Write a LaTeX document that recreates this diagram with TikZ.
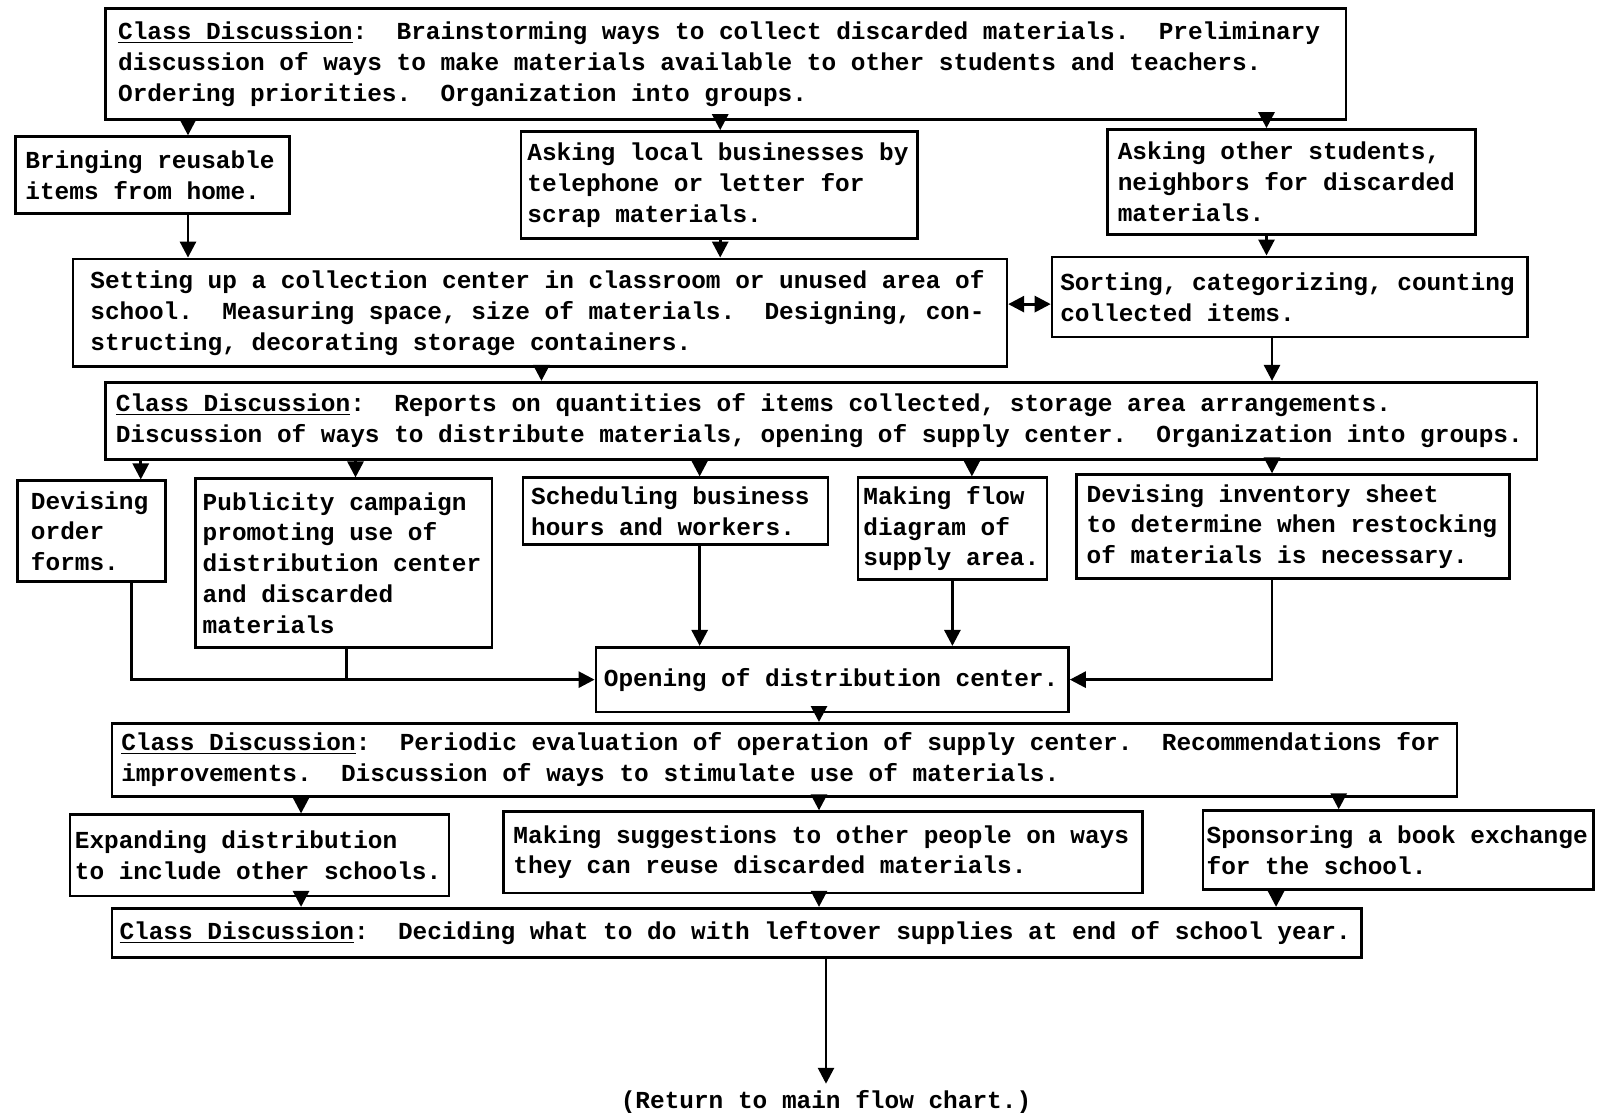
\documentclass[tikz,border=0pt]{standalone}
\usepackage{fontspec}
\setmonofont{Liberation Mono}
\usepackage{xcolor}
\usepackage{tikz}
\usetikzlibrary{arrows.meta, positioning, calc}

\begin{document}
\begin{tikzpicture}[
    box/.style={rectangle, draw=black, line width=1.5pt, align=flush left, inner ysep=0.1cm, font=\ttfamily\bfseries\fontsize{13.9}{17.5}\selectfont\frenchspacing, execute at begin node={\spaceskip=0pt\xspaceskip=0pt}},
    arr/.style={-{Triangle[length=0.32cm, width=0.32cm]}, line width=1.6pt},
    darr/.style={{Triangle[length=0.32cm, width=0.32cm]}-{Triangle[length=0.32cm, width=0.32cm]}, line width=1.6pt},
    lin/.style={line width=1.6pt}
]
\fill[white, use as bounding box] (0,0) rectangle (32.22,-22.24);

% collecting
\node[box, text width=24.308cm, inner xsep=0.247cm, minimum height=2.219cm] (cd1) at (14.517,-1.2825) {\underline{Class Discussion}:\ \ Brainstorming ways to collect discarded materials.\ \ Preliminary\\ discussion of ways to make materials available to other students and teachers.\\ Ordering priorities.\ \ Organization into groups.};
\node[box, text width=5.087cm, inner xsep=0.2cm, minimum height=1.541cm] (bring) at (3.0515,-3.5035) {Bringing reusable\\ items from home.};
\node[box, text width=7.671cm, inner xsep=0.13cm, minimum height=2.137cm] (ask) at (14.3835,-3.6985) {Asking local businesses by\\ telephone or letter for\\ scrap materials.};
\node[box, text width=6.946cm, inner xsep=0.205cm, minimum height=2.096cm] (other) at (25.829,-3.637) {Asking other students,\\ neighbors for discarded\\ materials.};
\node[box, text width=17.98cm, inner xsep=0.349cm, minimum height=2.158cm] (setup) at (10.798,-6.257) {Setting up a collection center in classroom or unused area of\\ school.\ \ Measuring space, size of materials.\ \ Designing, con-\\ structing, decorating storage containers.};
\node[box, text width=9.186cm, inner xsep=0.164cm, minimum height=1.603cm] (sort) at (25.798,-5.9385) {Sorting, categorizing, counting\\ collected items.};

% distributing
\node[box, text width=28.224cm, inner xsep=0.2cm, minimum height=1.541cm] (cd2) at (16.428,-8.4145) {\underline{Class Discussion}:\ \ Reports on quantities of items collected, storage area arrangements.\\ Discussion of ways to distribute materials, opening of supply center.\ \ Organization into groups.};
\node[box, text width=2.419cm, inner xsep=0.27cm, minimum height=2.014cm] (order) at (1.8285,-10.623) {Devising\\ order\\ forms.};
\node[box, text width=5.638cm, inner xsep=0.15cm, minimum height=3.37cm] (public) at (6.873,-11.26) {Publicity campaign\\ promoting use of\\ distribution center\\ and discarded\\ materials};
\node[box, text width=5.775cm, inner xsep=0.164cm, minimum height=1.335cm] (sched) at (13.5105,-10.2225) {Scheduling business\\ hours and workers.};
\node[box, text width=3.56cm, inner xsep=0.11cm, minimum height=2.034cm] (flow) at (19.048,-10.572) {Making flow\\ diagram of\\ supply area.};
\node[box, text width=8.251cm, inner xsep=0.2cm, minimum height=2.076cm] (inv) at (25.8595,-10.531) {Devising inventory sheet\\ to determine when restocking\\ of materials is necessary.};
\node[box, text width=9.132cm, inner xsep=0.16cm, minimum height=1.295cm] (open) at (16.644,-13.5925) {Opening of distribution center.};

% evaluating
\node[box, text width=26.527cm, inner xsep=0.185cm, minimum height=1.459cm] (cd3) at (15.6885,-15.1955) {\underline{Class Discussion}:\ \ Periodic evaluation of operation of supply center.\ \ Recommendations for\\ improvements.\ \ Discussion of ways to stimulate use of materials.};
\node[box, text width=7.382cm, inner xsep=0.1cm, minimum height=1.623cm] (expand) at (5.188,-17.1065) {Expanding distribution\\ to include other schools.};
\node[box, text width=12.38cm, inner xsep=0.2cm, minimum height=1.623cm] (suggest) at (16.459,-17.0445) {Making suggestions to other people on ways\\ they can reuse discarded materials.};
\node[box, text width=7.668cm, inner xsep=0.07cm, minimum height=1.583cm] (sponsor) at (27.966,-17.0035) {Sponsoring a book exchange\\ for the school.};
\node[box, text width=24.686cm, inner xsep=0.15cm, minimum height=0.987cm] (cd4) at (14.733,-18.6575) {\underline{Class Discussion}:\ \ Deciding what to do with leftover supplies at end of school year.};
\node[font=\ttfamily\bfseries\fontsize{13.9}{17.5}\selectfont] (ret) at (16.52,-22.03) {(Return to main flow chart.)};

% arrow columns
\coordinate (xa) at (3.76,0);
\coordinate (xb) at (14.404,0);
\coordinate (xc) at (25.33,0);
\coordinate (xd) at (10.829,0);
\coordinate (xe) at (25.44,0);
\coordinate (xf) at (2.815,0);
\coordinate (xg) at (7.11,0);
\coordinate (xh) at (13.993,0);
\coordinate (xi) at (19.438,0);
\coordinate (xj) at (19.048,0);
\coordinate (xk) at (2.63,0);
\coordinate (xl) at (6.925,0);
\coordinate (xm) at (16.38,0);
\coordinate (xn) at (6.021,0);
\coordinate (xo) at (26.774,0);
\coordinate (xp) at (25.521,0);
\coordinate (yd) at (0,-6.082);

\draw[arr] (cd1.south -| xa) -- (bring.north -| xa);
\draw[arr] (cd1.south -| xb) -- (ask.north -| xb);
\draw[arr] (cd1.south -| xc) -- (other.north -| xc);
\draw[arr] (bring.south -| xa) -- (setup.north -| xa);
\draw[arr] (ask.south -| xb) -- (setup.north -| xb);
\draw[arr] (other.south -| xc) -- (sort.north -| xc);
\draw[darr] (setup.east |- yd) -- (sort.west |- yd);
\draw[arr] (setup.south -| xd) -- (cd2.north -| xd);
\draw[arr] (sort.south -| xe) -- (cd2.north -| xe);

\draw[arr] (cd2.south -| xf) -- (order.north -| xf);
\draw[arr] (cd2.south -| xg) -- (public.north -| xg);
\draw[arr] (cd2.south -| xh) -- (sched.north -| xh);
\draw[arr] (cd2.south -| xi) -- (flow.north -| xi);
\draw[arr] (cd2.south -| xe) -- (inv.north -| xe);
\draw[arr] (order.south -| xk) |- (open.west);
\draw[lin] (public.south -| xl) -- (xl |- open.west);
\draw[arr] (sched.south -| xh) -- (open.north -| xh);
\draw[arr] (flow.south -| xj) -- (open.north -| xj);
\draw[arr] (inv.south -| xe) |- (open.east);
\draw[arr] (open.south -| xm) -- (cd3.north -| xm);

\draw[arr] (cd3.south -| xn) -- (expand.north -| xn);
\draw[arr] (cd3.south -| xm) -- (suggest.north -| xm);
\draw[arr] (cd3.south -| xo) -- (sponsor.north -| xo);
\draw[arr] (expand.south -| xn) -- (cd4.north -| xn);
\draw[arr] (suggest.south -| xm) -- (cd4.north -| xm);
\draw[arr] (sponsor.south -| xp) -- (cd4.north -| xp);
\draw[arr] (cd4.south -| ret) -- (ret.north);
\end{tikzpicture}
\end{document}
